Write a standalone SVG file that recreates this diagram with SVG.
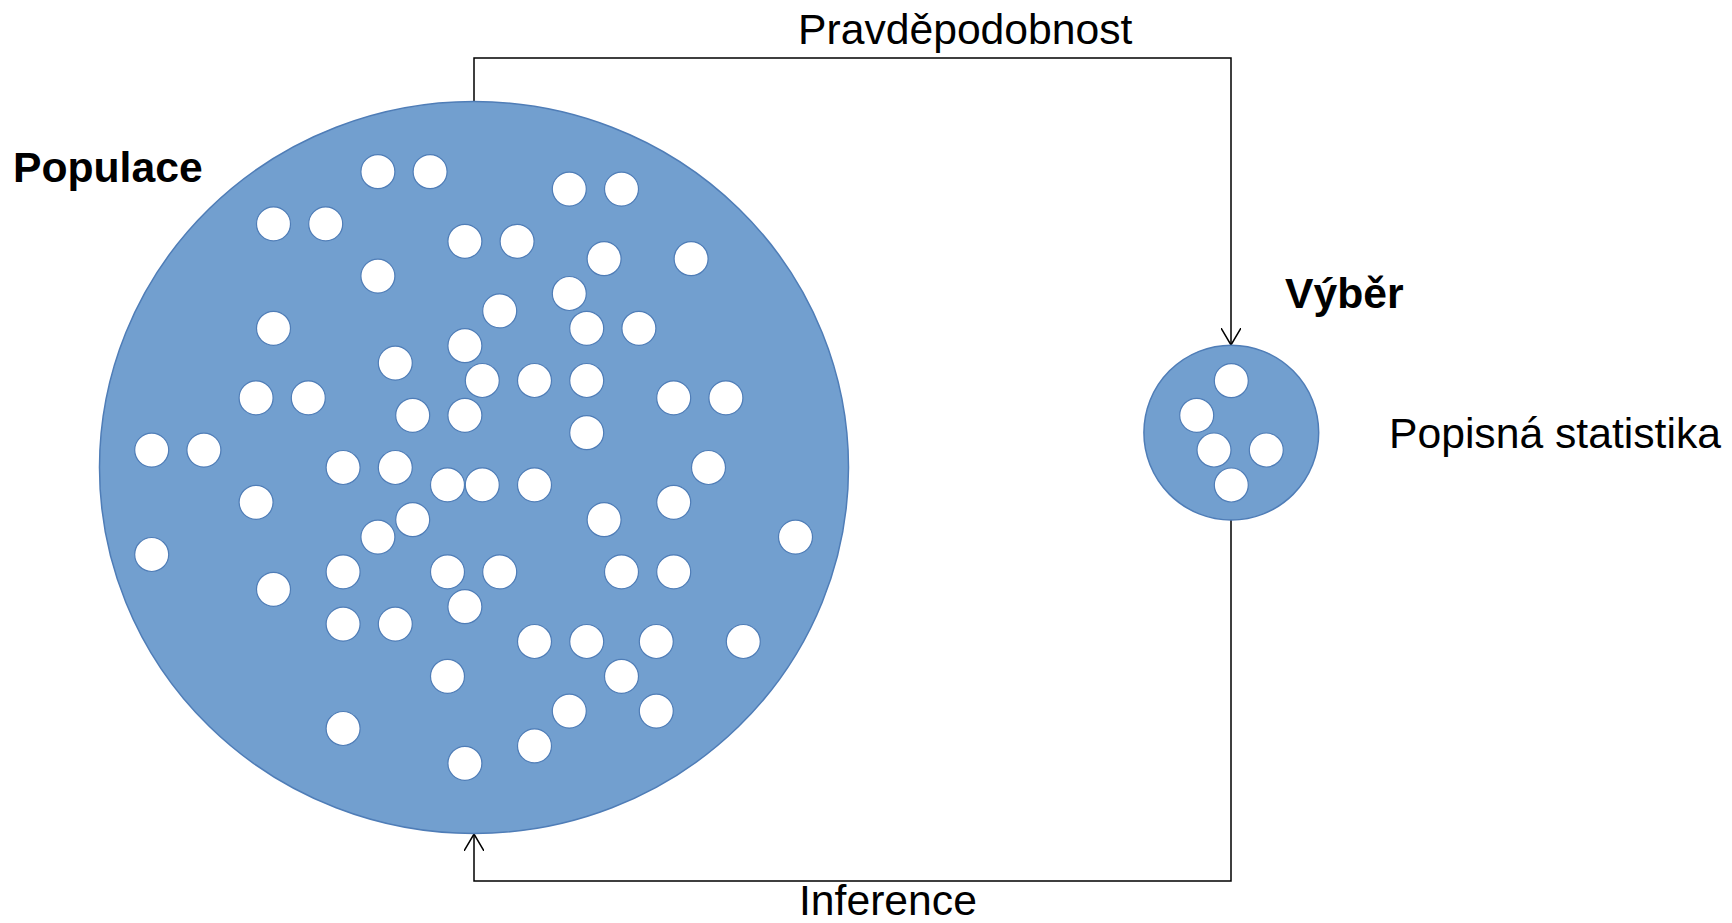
<svg xmlns="http://www.w3.org/2000/svg" width="1732" height="923" viewBox="0 0 1732 923">
<style>
.pop{fill:#729fcf;stroke:#4f7db7;stroke-width:1.5}
.dot{fill:#ffffff;stroke:#4f7db7;stroke-width:1.2}
.lbl{font-family:"Liberation Sans",Arial,sans-serif;font-size:42.67px;fill:#000}
.b{font-weight:bold}
.con{fill:none;stroke:#000;stroke-width:1.5}
</style>
<defs>
<marker id="arr" viewBox="0 0 17 20" refX="17" refY="10" markerWidth="17" markerHeight="20" markerUnits="userSpaceOnUse" orient="auto">
<path d="M0,0 L17,10 L0,20" fill="none" stroke="#000" stroke-width="1.5"/>
</marker>
</defs>
<rect width="1732" height="923" fill="#fff"/>
<g id="connectors">
<path class="con" d="M474,101.5 V58 H1231 V345" marker-end="url(#arr)"/>
<path class="con" d="M1231,520 V881 H474 V834" marker-end="url(#arr)"/>
</g>
<g id="populace">
<ellipse class="pop" cx="474" cy="467.5" rx="374.5" ry="366"/>
<circle class="dot" cx="377.9" cy="171.7" r="17"/>
<circle class="dot" cx="430.1" cy="171.7" r="17"/>
<circle class="dot" cx="569.3" cy="189.1" r="17"/>
<circle class="dot" cx="621.5" cy="189.1" r="17"/>
<circle class="dot" cx="273.5" cy="223.9" r="17"/>
<circle class="dot" cx="325.7" cy="223.9" r="17"/>
<circle class="dot" cx="464.9" cy="241.3" r="17"/>
<circle class="dot" cx="517.1" cy="241.3" r="17"/>
<circle class="dot" cx="604.1" cy="258.7" r="17"/>
<circle class="dot" cx="691.1" cy="258.7" r="17"/>
<circle class="dot" cx="377.9" cy="276.1" r="17"/>
<circle class="dot" cx="569.3" cy="293.5" r="17"/>
<circle class="dot" cx="499.7" cy="310.9" r="17"/>
<circle class="dot" cx="273.5" cy="328.3" r="17"/>
<circle class="dot" cx="586.7" cy="328.3" r="17"/>
<circle class="dot" cx="638.9" cy="328.3" r="17"/>
<circle class="dot" cx="464.9" cy="345.7" r="17"/>
<circle class="dot" cx="395.3" cy="363.1" r="17"/>
<circle class="dot" cx="482.3" cy="380.5" r="17"/>
<circle class="dot" cx="534.5" cy="380.5" r="17"/>
<circle class="dot" cx="586.7" cy="380.5" r="17"/>
<circle class="dot" cx="256.1" cy="397.9" r="17"/>
<circle class="dot" cx="308.3" cy="397.9" r="17"/>
<circle class="dot" cx="673.7" cy="397.9" r="17"/>
<circle class="dot" cx="725.9" cy="397.9" r="17"/>
<circle class="dot" cx="412.7" cy="415.3" r="17"/>
<circle class="dot" cx="464.9" cy="415.3" r="17"/>
<circle class="dot" cx="586.7" cy="432.7" r="17"/>
<circle class="dot" cx="151.7" cy="450.1" r="17"/>
<circle class="dot" cx="203.9" cy="450.1" r="17"/>
<circle class="dot" cx="343.1" cy="467.5" r="17"/>
<circle class="dot" cx="395.3" cy="467.5" r="17"/>
<circle class="dot" cx="708.5" cy="467.5" r="17"/>
<circle class="dot" cx="447.5" cy="484.9" r="17"/>
<circle class="dot" cx="482.3" cy="484.9" r="17"/>
<circle class="dot" cx="534.5" cy="484.9" r="17"/>
<circle class="dot" cx="256.1" cy="502.3" r="17"/>
<circle class="dot" cx="673.7" cy="502.3" r="17"/>
<circle class="dot" cx="412.7" cy="519.7" r="17"/>
<circle class="dot" cx="604.1" cy="519.7" r="17"/>
<circle class="dot" cx="377.9" cy="537.1" r="17"/>
<circle class="dot" cx="795.5" cy="537.1" r="17"/>
<circle class="dot" cx="151.7" cy="554.5" r="17"/>
<circle class="dot" cx="343.1" cy="571.9" r="17"/>
<circle class="dot" cx="447.5" cy="571.9" r="17"/>
<circle class="dot" cx="499.7" cy="571.9" r="17"/>
<circle class="dot" cx="621.5" cy="571.9" r="17"/>
<circle class="dot" cx="673.7" cy="571.9" r="17"/>
<circle class="dot" cx="273.5" cy="589.3" r="17"/>
<circle class="dot" cx="464.9" cy="606.7" r="17"/>
<circle class="dot" cx="343.1" cy="624.1" r="17"/>
<circle class="dot" cx="395.3" cy="624.1" r="17"/>
<circle class="dot" cx="534.5" cy="641.5" r="17"/>
<circle class="dot" cx="586.7" cy="641.5" r="17"/>
<circle class="dot" cx="656.3" cy="641.5" r="17"/>
<circle class="dot" cx="743.3" cy="641.5" r="17"/>
<circle class="dot" cx="447.5" cy="676.3" r="17"/>
<circle class="dot" cx="621.5" cy="676.3" r="17"/>
<circle class="dot" cx="569.3" cy="711.1" r="17"/>
<circle class="dot" cx="656.3" cy="711.1" r="17"/>
<circle class="dot" cx="343.1" cy="728.5" r="17"/>
<circle class="dot" cx="534.5" cy="745.9" r="17"/>
<circle class="dot" cx="464.9" cy="763.3" r="17"/>
</g>
<g id="vyber">
<circle class="pop" cx="1231.3" cy="432.6" r="87.4"/>
<circle class="dot" cx="1231.3" cy="380.7" r="17"/>
<circle class="dot" cx="1196.7" cy="415.3" r="17"/>
<circle class="dot" cx="1214" cy="450" r="17"/>
<circle class="dot" cx="1266.3" cy="450" r="17"/>
<circle class="dot" cx="1231.3" cy="485" r="17"/>
</g>
<g id="label-populace"><text class="lbl b" x="13" y="182">Populace</text></g>
<g id="label-vyber"><text class="lbl b" x="1285" y="308">Výběr</text></g>
<g id="label-popisna"><text class="lbl" x="1389" y="448">Popisná statistika</text></g>
<g id="label-pravdepodobnost"><text class="lbl" x="798" y="44">Pravděpodobnost</text></g>
<g id="label-inference"><text class="lbl" x="799" y="915">Inference</text></g>
</svg>
